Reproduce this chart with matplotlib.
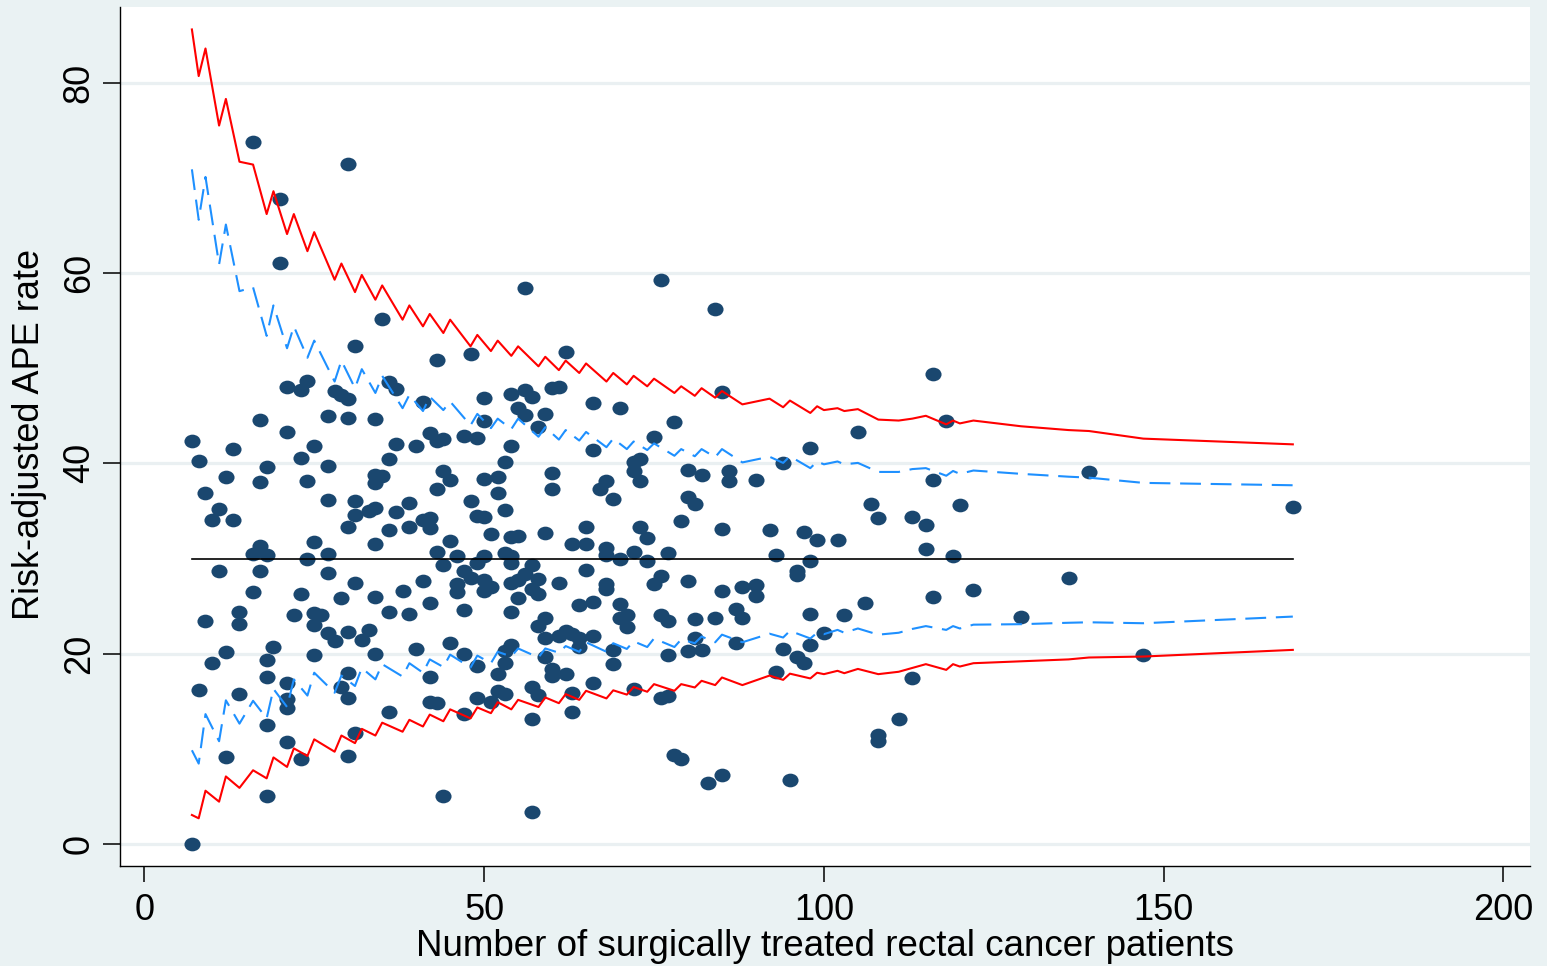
import numpy as np
import matplotlib
matplotlib.use("Agg")
import matplotlib.pyplot as plt
from matplotlib.path import Path
from matplotlib.transforms import Affine2D

# ---------------- data ----------------
# hospital-level observations: number of patients, risk-adjusted APE rate (%)
n_patients = [
    16, 30, 20, 20, 35, 31, 24, 21, 23, 28, 29, 30, 36, 37, 17, 27, 30, 34,
    7, 8, 13, 12, 9, 11, 10, 13, 18, 17, 21, 23, 25, 27, 24, 27, 31, 31, 33, 34,
    30, 34, 36, 34, 34, 35, 36, 25, 27, 24, 16, 17, 18, 17, 11, 27, 31, 29, 23,
    16, 34, 36, 9, 14, 14, 22, 25, 26, 25, 27, 28, 30, 32, 33, 12, 10, 19, 18,
    18, 25, 34, 8, 14, 21, 21, 21, 30, 29, 30, 18, 36, 31, 12, 21, 23, 30, 18, 7,
    56, 43, 48, 62, 41, 50, 54, 56, 57, 60, 61, 66, 55, 56, 59, 50, 58, 42, 43,
    44, 47, 49, 37, 40, 54, 53, 66, 44, 45, 50, 52, 60, 60, 43, 52, 67, 39, 37,
    48, 49, 50, 53, 41, 42, 42, 39, 51, 54, 55, 59, 65, 45,
    43, 46, 44, 63, 65, 50, 49, 53, 54, 54, 57, 56, 58, 47, 48, 46, 46, 50, 51,
    50, 54, 55, 57, 58, 55, 61, 65, 41, 38, 42, 39, 47, 54, 64, 66, 58, 59, 59,
    61, 62, 63, 64, 64, 66, 40, 45, 47, 49, 53, 54, 53, 52, 59, 60, 60, 62, 42,
    66, 42, 43, 49, 47, 51, 52, 53, 57, 58, 57, 63, 63, 44, 57,
    76, 84, 85, 70, 78, 75, 98, 72, 73, 72, 73, 68, 69, 80, 82, 86, 86, 90, 94,
    80, 81, 79, 73, 85, 92, 97, 74, 99,
    68, 68, 70, 72, 74, 77, 93, 98, 96, 96, 68, 68, 76, 75, 80, 85, 88, 90, 90,
    70, 71, 70, 71, 76, 77, 81, 84, 87, 88, 98, 81, 80, 82, 69, 69, 77, 87, 94,
    96, 97, 98, 100, 93, 72, 76, 77, 78, 79, 85, 83, 95,
    116, 118, 105, 116, 139, 107, 108, 113, 115, 120, 169, 102, 115, 119, 136,
    122, 116, 106, 103, 129, 147, 113, 111, 108, 108,
]
ape_rate = [
    73.8, 71.5, 67.8, 61.1, 55.2, 52.3, 48.7, 48.0, 47.7, 47.6, 47.2, 46.8, 48.6,
    47.8, 44.6, 45.0, 44.8, 44.7,
    42.4, 40.2, 41.5, 38.6, 36.9, 35.2, 34.1, 34.1, 39.6, 38.0, 43.3, 40.6, 41.8,
    39.7, 38.2, 36.2, 36.0, 34.6, 35.0, 35.3, 33.3, 31.5, 33.0, 38.8, 37.9, 38.7,
    40.5, 31.7, 30.5, 30.0, 30.5, 31.3, 30.4, 28.7, 28.7, 28.5, 27.4, 25.9, 26.3,
    26.5, 26.0, 24.4, 23.4, 24.4, 23.1, 24.1, 24.3, 24.1, 23.0, 22.2, 21.3, 22.3,
    21.4, 22.5, 20.2, 19.0, 20.7, 19.3, 17.6, 19.9, 20.0, 16.2, 15.8, 16.9, 15.2,
    14.3, 18.0, 16.5, 15.3, 12.5, 13.9, 11.7, 9.1, 10.7, 8.9, 9.3, 5.0, 0.0,
    58.4, 50.9, 51.5, 51.7, 46.5, 46.9, 47.3, 47.7, 47.0, 47.9, 48.0, 46.3, 45.8,
    45.1, 45.2, 44.5, 43.8, 43.2, 42.3, 42.6, 42.9, 42.7, 42.0, 41.8, 41.8, 40.1,
    41.4, 39.2, 38.3, 38.4, 38.6, 39.0, 37.3, 37.3, 36.9, 37.3, 35.8, 34.9, 36.0,
    34.5, 34.4, 35.1, 34.0, 34.3, 33.2, 33.3, 32.6, 32.3, 32.4, 32.7, 33.3, 31.8,
    30.7, 30.3, 29.3, 31.5, 31.5, 30.3, 29.5, 30.6, 30.3, 29.5, 29.3, 28.4, 27.8,
    28.7, 28.0, 27.3, 26.5, 27.7, 27.0, 26.6, 27.4, 27.7, 26.8, 26.3, 25.9, 27.4,
    28.8, 27.6, 26.6, 25.3, 24.2, 24.6, 24.4, 25.1, 25.4, 22.9, 23.8, 21.7, 21.9,
    22.4, 22.1, 21.7, 20.7, 21.9, 20.5, 21.1, 20.0, 18.7, 20.3, 20.9, 19.0, 17.9,
    19.6, 18.4, 17.7, 17.9, 17.6, 16.9, 14.9, 14.8, 15.3, 13.7, 14.9, 16.1, 15.8,
    16.5, 15.7, 13.1, 15.9, 13.9, 5.05, 3.4,
    59.3, 56.2, 47.5, 45.8, 44.3, 42.8, 41.6, 40.1, 40.5, 39.2, 38.1, 38.1, 36.3,
    39.3, 38.8, 39.2, 38.1, 38.3, 40.0, 36.5, 35.7, 33.9, 33.3, 33.1, 33.0, 32.8,
    32.2, 32.0,
    31.1, 30.4, 29.9, 30.7, 29.7, 30.6, 30.4, 29.7, 28.7, 28.3, 27.3, 26.8, 28.2,
    27.3, 27.6, 26.6, 27.0, 27.2, 26.1, 25.2, 24.1, 23.7, 22.8, 24.1, 23.4, 23.6,
    23.8, 24.7, 23.7, 24.2, 21.7, 20.3, 20.4, 20.4, 18.9, 19.9, 21.1, 20.5, 19.6,
    19.0, 20.9, 22.2, 18.1, 16.3, 15.3, 15.6, 9.4, 8.9, 7.2, 6.4, 6.7,
    49.4, 44.5, 43.3, 38.3, 39.1, 35.7, 34.3, 34.4, 33.5, 35.6, 35.4, 31.9, 31.0,
    30.3, 28.0, 26.7, 26.0, 25.3, 24.1, 23.9, 19.9, 17.4, 13.1, 11.5, 10.8,
]

# funnel control limits, evaluated at the observed hospital sizes
n_limits = [7, 8, 9, 11, 12, 14, 16, 18, 19, 21, 22, 24, 25, 28, 29, 31, 32, 34,
            35, 38, 39, 41, 42, 44, 45, 48, 49, 51, 52, 54, 55, 58, 59, 61, 62,
            64, 65, 68, 69, 71, 72, 74, 75, 78, 79, 81, 82, 84, 85, 88, 92, 94,
            95, 98, 99, 100, 102, 103, 105, 108, 111, 113, 115, 118, 119, 120,
            122, 129, 136, 139, 147, 169]
upper_998 = [85.6, 80.7, 83.6, 75.5, 78.3, 71.7, 71.4, 66.2, 68.6, 64.1, 66.2,
             62.3, 64.3, 59.3, 61.0, 58.0, 59.8, 57.2, 58.7, 55.1, 56.6, 54.4,
             55.7, 53.7, 55.1, 52.3, 53.5, 51.8, 52.9, 51.3, 52.3, 50.2, 51.2,
             49.8, 50.8, 49.5, 50.5, 48.6, 49.5, 48.3, 49.2, 48.1, 48.9, 47.4,
             48.1, 47.1, 47.9, 46.9, 47.6, 46.2, 46.8, 45.9, 46.6, 45.3, 46.0,
             45.6, 45.8, 45.5, 45.7, 44.6, 44.5, 44.7, 45.0, 44.1, 44.5, 44.2,
             44.5, 43.9, 43.5, 43.4, 42.6, 42.0]
upper_95 = [70.9, 65.6, 70.1, 60.9, 65.1, 58.1, 58.5, 53.4, 56.6, 52.1, 54.4,
            51.1, 52.9, 48.6, 50.8, 47.9, 49.9, 47.4, 49.2, 45.8, 47.2, 45.5,
            47.0, 45.6, 46.5, 44.0, 45.2, 43.7, 44.7, 43.6, 44.7, 42.8, 43.8,
            42.5, 43.5, 42.4, 43.3, 41.7, 42.6, 41.5, 42.3, 41.4, 42.1, 40.8,
            41.5, 40.75, 41.5, 40.65, 41.5, 40.1, 40.7, 40.05, 40.75, 39.5, 40.2,
            39.9, 40.2, 39.9, 40.05, 39.1, 39.1, 39.4, 39.5, 38.7, 39.2, 38.9,
            39.25, 38.9, 38.6, 38.5, 37.95, 37.7]
lower_95 = [9.85, 8.45, 13.65, 10.8, 15.1, 12.65, 15.05, 13.2, 16.3, 14.4, 17.3,
            15.6, 18.0, 15.9, 17.7, 16.6, 18.5, 17.3, 18.9, 17.6, 19.0, 18.0,
            19.4, 18.6, 19.9, 18.55, 19.8, 19.0, 20.2, 19.7, 20.55, 19.6, 20.55,
            20.1, 20.8, 20.2, 21.2, 20.2, 21.1, 20.5, 21.3, 20.7, 21.6, 20.7,
            21.5, 21.1, 21.8, 21.2, 22.0, 21.2, 22.1, 21.7, 22.4, 21.6, 22.2,
            22.05, 22.5, 22.2, 22.65, 22.0, 22.2, 22.6, 22.9, 22.5, 22.9, 22.65,
            23.05, 23.1, 23.25, 23.3, 23.2, 23.9]
lower_998 = [3.05, 2.7, 5.6, 4.45, 7.1, 5.9, 7.75, 6.9, 9.1, 8.1, 10.05, 9.25,
             11.0, 9.7, 11.4, 10.6, 12.1, 11.4, 12.75, 11.8, 13.05, 12.35, 13.6,
             12.9, 14.15, 13.2, 14.35, 13.75, 14.9, 14.15, 15.15, 14.4, 15.4,
             14.8, 15.75, 15.15, 16.1, 15.3, 16.15, 15.7, 16.5, 16.0, 16.8, 16.1,
             16.8, 16.45, 17.15, 16.7, 17.5, 16.7, 17.7, 17.25, 17.9, 17.4, 18.0,
             17.85, 18.2, 17.95, 18.4, 17.85, 18.1, 18.5, 18.9, 18.3, 18.9,
             18.65, 19.0, 19.2, 19.4, 19.6, 19.7, 20.4]
target_rate = 30

x_ticks = [0, 50, 100, 150, 200]
y_ticks = [0, 20, 40, 60, 80]
x_title = "Number of surgically treated rectal cancer patients"
y_title = "Risk-adjusted APE rate"

# ---------------- style ----------------
plt.rcParams["font.family"] = ["Liberation Sans", "DejaVu Sans"]
plt.rcParams["lines.scale_dashes"] = False

W, H = 1547, 966
fig = plt.figure(figsize=(W / 100, H / 100), dpi=100, facecolor="#eaf2f3")
left_px, right_px, top_px, bottom_px = 120, 1530, 7, 865.7
ax = fig.add_axes([left_px / W, (H - bottom_px) / H,
                   (right_px - left_px) / W, (bottom_px - top_px) / H])
ax.set_facecolor("white")

ax.set_xlim(-3.58, 203.9)
ax.set_ylim(-2.28, 87.96)

# grid
for yv in y_ticks:
    ax.axhline(yv, color="#eaf0f2", lw=2.3, zorder=0.5)

# ellipse marker (slightly wider than tall)
ell = Path.unit_circle().transformed(Affine2D().scale(1.0, 0.85))
ax.plot(n_patients, ape_rate, linestyle="none", marker=ell, markersize=11.6,
        markerfacecolor="#1a476f", markeredgewidth=0, zorder=2)

ax.plot(n_limits, upper_998, color="#ff0000", lw=1.5, zorder=3)
ax.plot(n_limits, lower_998, color="#ff0000", lw=1.5, zorder=3)
ax.plot(n_limits, upper_95, color="#1e90ff", lw=1.5, dashes=(15, 7), zorder=3)
ax.plot(n_limits, lower_95, color="#1e90ff", lw=1.5, dashes=(15, 7), zorder=3)
ax.plot([n_limits[0], n_limits[-1]], [target_rate, target_rate],
        color="black", lw=1.2, zorder=3)

# spines
for s in ("top", "right"):
    ax.spines[s].set_visible(False)
for s in ("left", "bottom"):
    ax.spines[s].set_color("black")
    ax.spines[s].set_linewidth(1.0)

ax.set_xticks(x_ticks)
ax.set_yticks(y_ticks)
ax.set_xticklabels([str(v) for v in x_ticks])
ax.set_yticklabels([str(v) for v in y_ticks])
ax.tick_params(axis="x", direction="out", length=11.5, width=1.1, pad=8,
               labelsize=26, colors="black")
ax.tick_params(axis="y", direction="out", length=12.2, width=1.1, pad=4.6,
               labelsize=26, colors="black")
for lab in ax.get_yticklabels():
    lab.set_rotation(90)
    lab.set_va("center")
    lab.set_ha("right")

ax.set_xlabel(x_title, fontsize=26.5)
ax.xaxis.set_label_coords(0.5, (bottom_px - 956) / (bottom_px - top_px))
ax.xaxis.label.set_va("baseline")

ax.set_ylabel(y_title, fontsize=26)
ax.yaxis.set_label_coords((30 - left_px) / (right_px - left_px),
                          (bottom_px - 435) / (bottom_px - top_px))
ax.yaxis.label.set_va("center")
ax.yaxis.label.set_ha("center")
ax.yaxis.label.set_rotation_mode("default")

fig.savefig("out.png", dpi=100, facecolor=fig.get_facecolor())
